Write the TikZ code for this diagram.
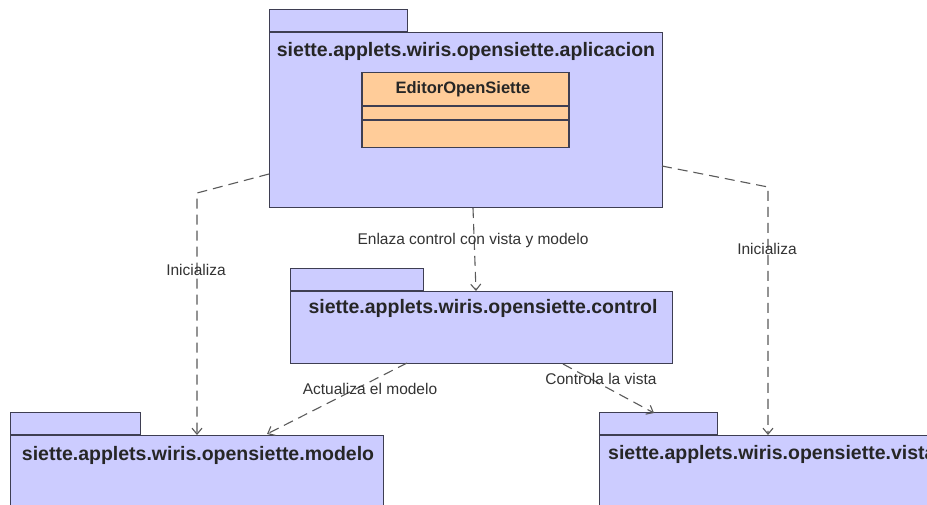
\documentclass[tikz,border=0pt]{standalone}
\usepackage{fontspec}
\setmainfont{Liberation Sans}
\usetikzlibrary{arrows.meta}
\definecolor{pkgfill}{RGB}{204,204,255}
\definecolor{pkgline}{RGB}{62,62,82}
\definecolor{clsfill}{RGB}{255,204,153}
\definecolor{deplink}{RGB}{90,90,90}
\begin{document}
\begin{tikzpicture}[x=1pt,y=-1pt,
  pkgbody/.style={draw=pkgline, fill=pkgfill, line width=1.1pt, anchor=north west, inner sep=0pt},
  pkgtab/.style={draw=pkgline, fill=pkgfill, line width=1.1pt, anchor=south west, inner sep=0pt, minimum height=22pt},
  pkgtitle/.style={anchor=base, inner sep=0pt, font=\fontsize{19.5}{22}\selectfont\bfseries, text=black!85},
  clsbox/.style={draw=pkgline, fill=clsfill, line width=1.1pt, anchor=north, inner sep=0pt, minimum width=207pt},
  clsname/.style={anchor=base, inner sep=0pt, font=\fontsize{16.5}{19}\selectfont\bfseries, text=black!85},
  deplabel/.style={inner sep=0pt, font=\fontsize{15.5}{18}\selectfont, text=black!80},
  dep/.style={draw=deplink, line width=1.1pt, dash pattern=on 10pt off 6pt,
    -{Straight Barb[length=6pt,width=10pt,line width=1.1pt]}},
]
\useasboundingbox (0,0) rectangle (927,504);
\clip (0,0) rectangle (927,504);
\fill[white] (0,0) rectangle (927,504);

% package: aplicacion
\node[pkgtab, minimum width=138pt] (apptab) at (269,32) {};
\node[pkgbody, minimum width=393pt, minimum height=175pt] (app) at (269,32) {};
\node[pkgtitle] (apptitle) at (466,56) {siette.applets.wiris.opensiette.aplicacion};

% class EditorOpenSiette
\node[clsbox, minimum height=33pt] (clshead) at (465.5,72) {};
\node[clsbox, minimum height=13pt, anchor=north] (clsattr) at (clshead.south) {};
\node[clsbox, minimum height=27pt, anchor=north] (clsops) at (clsattr.south) {};
\node[clsname] (clsnametext) at (463,93) {EditorOpenSiette};

% package: control
\node[pkgtab, minimum width=133pt] (ctltab) at (290,291) {};
\node[pkgbody, minimum width=382pt, minimum height=72pt] (ctl) at (290,291) {};
\node[pkgtitle] (ctltitle) at (483,313) {siette.applets.wiris.opensiette.control};

% package: modelo
\node[pkgtab, minimum width=130pt] (modtab) at (10,435) {};
\node[pkgbody, minimum width=373pt, minimum height=90pt] (mod) at (10,435) {};
\node[pkgtitle] (modtitle) at (198,460) {siette.applets.wiris.opensiette.modelo};

% package: vista
\node[pkgtab, minimum width=118pt] (vistab) at (599,435) {};
\node[pkgbody, minimum width=345pt, minimum height=90pt] (vis) at (599,435) {};
\node[pkgtitle, anchor=base west] (vistitle) at (608,459) {siette.applets.wiris.opensiette.vista};

% bend points and ends of the dependencies
\coordinate (lstart) at (269,174);
\coordinate (lbend) at (197,193);
\coordinate (lend) at (197,435);
\coordinate (rstart) at (662,166);
\coordinate (rbend) at (768,187);
\coordinate (rend) at (768,435);
\coordinate (cstart) at (473,208);
\coordinate (cend) at (476,291);
\coordinate (mstart) at (407,363);
\coordinate (mend) at (267,434);
\coordinate (vstart) at (563,364);
\coordinate (vend) at (654,413);

\draw[dep] (lstart) -- (lbend) -- (lend);
\draw[dep] (rstart) -- (rbend) -- (rend);
\draw[dep] (cstart) -- (cend);
\draw[dep] (mstart) -- (mend);
\draw[dep] (vstart) -- (vend);

\node[deplabel] (llabel) at (196,270) {Inicializa};
\node[deplabel] (rlabel) at (767,249) {Inicializa};
\node[deplabel] (clabel) at (473,240) {Enlaza control con vista y modelo};
\node[deplabel] (mlabel) at (370,389) {Actualiza el modelo};
\node[deplabel] (vlabel) at (601,379) {Controla la vista};
\end{tikzpicture}
\end{document}
